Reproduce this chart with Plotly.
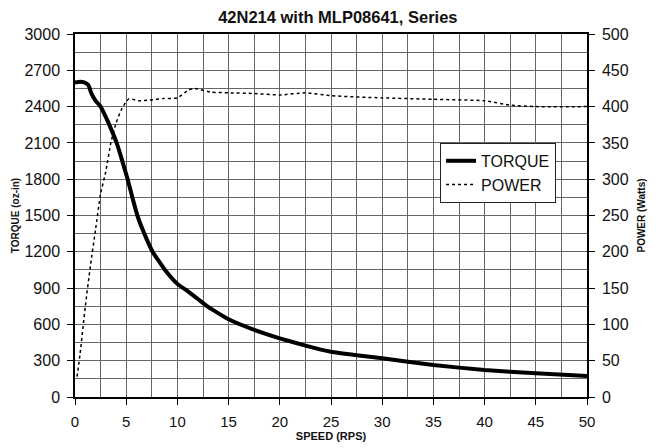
import plotly.graph_objects as go

title = "42N214 with MLP08641, Series"

torque_speed = [0, 0.5, 0.9, 1.3, 1.6, 2.0, 2.5, 3.0, 3.5, 4.07, 4.62, 5.14, 5.6, 6.09,
                6.77, 7.58, 8.79, 10.0, 11.0, 12.0, 13.0, 15.0, 17.5, 20.0, 22.5,
                25.0, 27.5, 30.0, 35.0, 40.0, 45.0, 50.0]
torque = [2600, 2605, 2600, 2578, 2510, 2450, 2400, 2315, 2220, 2100, 1950, 1800, 1650,
          1500, 1350, 1200, 1050, 935, 875, 810, 745, 642, 555, 485, 425,
          374, 345, 320, 264, 223, 196, 174]

power_speed = [0.2, 0.5, 1.0, 1.5, 2.0, 2.5, 3.0, 3.5, 4.0, 4.5, 5.0, 5.3, 6.2, 7.3,
               8.6, 10.0, 11.1, 11.7, 13.3, 15.0, 17.5, 20.0, 22.5, 25.0, 30.0, 35.0,
               40.0, 42.5, 45.0, 50.0]
power = [28, 60, 124, 180, 230, 280, 310, 350, 377, 395, 407, 411, 408, 409, 411, 412,
         423, 425, 420, 419, 418, 416, 419, 415, 412, 410, 408, 402, 400, 400]

x_ticks = [0, 5, 10, 15, 20, 25, 30, 35, 40, 45, 50]
torque_ticks = [0, 300, 600, 900, 1200, 1500, 1800, 2100, 2400, 2700, 3000]
power_ticks = [0, 50, 100, 150, 200, 250, 300, 350, 400, 450, 500]

FONT = "Liberation Sans, Arial, sans-serif"
GRID = "#666666"

fig = go.Figure()
fig.add_trace(go.Scatter(x=torque_speed, y=torque, name="TORQUE", mode="lines",
                         line=dict(color="black", width=4, shape="spline", smoothing=0.4)))
fig.add_trace(go.Scatter(x=power_speed, y=power, name="POWER", mode="lines", yaxis="y2",
                         line=dict(color="black", width=1.5, dash="dot", shape="spline",
                                   smoothing=0.5)))

fig.update_layout(
    width=648, height=440,
    margin=dict(l=67, r=69, t=26, b=51),
    paper_bgcolor="white", plot_bgcolor="white",
    font=dict(family=FONT, color="#111", size=14),
    title=dict(text="<b>" + title + "</b>", x=0.509, xanchor="center", y=0.978,
               yanchor="middle", font=dict(size=16.5, family=FONT, color="#111")),
    showlegend=True,
    legend=dict(x=0.713, y=0.700, xanchor="left", yanchor="top",
                bordercolor="#222", borderwidth=1, bgcolor="white",
                font=dict(size=16, family=FONT, color="#111"),
                tracegroupgap=0, itemwidth=30),
    xaxis=dict(range=[0, 50], tickvals=x_ticks, showgrid=True, gridcolor=GRID, gridwidth=1,
               minor=dict(dtick=2.5, showgrid=True, gridcolor=GRID, gridwidth=1),
               showline=True, linecolor="black", linewidth=1.5, mirror=True,
               ticks="outside", ticklen=6, tickcolor="black", zeroline=False,
               tickfont=dict(size=15), ticklabelstandoff=4, automargin=False,
               title=dict(text="<b>SPEED (RPS)</b>", font=dict(size=11), standoff=4)),
    yaxis=dict(range=[0, 3000], tickvals=torque_ticks, showgrid=True, gridcolor=GRID,
               gridwidth=1, minor=dict(dtick=150, showgrid=True, gridcolor=GRID, gridwidth=1),
               showline=True, linecolor="black", linewidth=1.5, mirror=True,
               ticks="outside", ticklen=6, tickcolor="black", zeroline=False,
               tickfont=dict(size=16), ticklabelstandoff=4, automargin=False,
               title=dict(text="<b>TORQUE (oz-in)</b>", font=dict(size=10), standoff=3)),
    yaxis2=dict(range=[0, 500], tickvals=power_ticks, overlaying="y", side="right",
                showgrid=False, zeroline=False, showline=True, linecolor="black",
                linewidth=1.5, ticks="outside", ticklen=6, tickcolor="black",
                tickfont=dict(size=16), ticklabelstandoff=4, automargin=False,
                title=dict(text="<b>POWER (Watts)</b>", font=dict(size=10), standoff=10)),
)

fig.write_html("out.html")
